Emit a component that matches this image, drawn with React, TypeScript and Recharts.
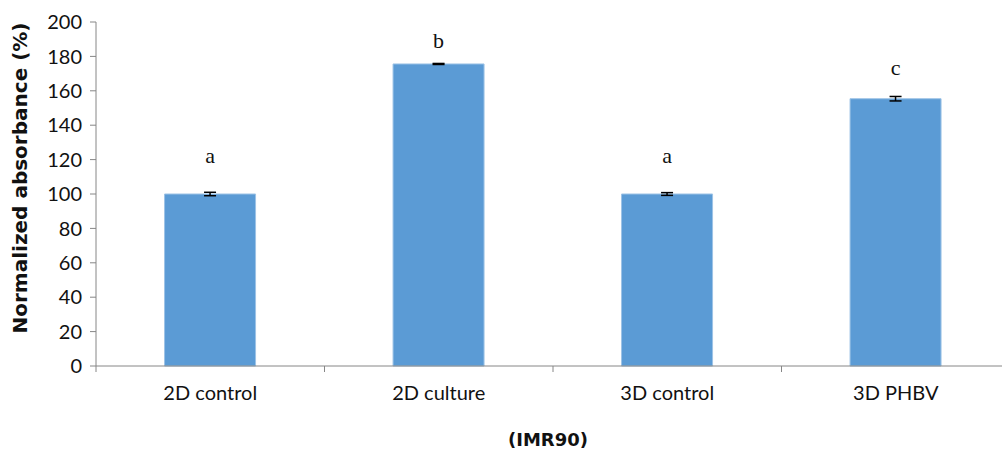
import { BarChart, Bar, XAxis, YAxis, ErrorBar, LabelList } from "recharts";

const categories: Array<string> = ["2D control", "2D culture", "3D control", "3D PHBV"];
const absorbance: Array<number> = [100, 175.6, 100, 155.4];
const errors: Array<number> = [1, 0.3, 0.8, 1.3];
const letters: Array<string> = ["a", "b", "a", "c"];
const letterLevels: Array<number> = [121, 188, 121, 172];
const yTicks: Array<number> = [0, 20, 40, 60, 80, 100, 120, 140, 160, 180, 200];

const data = categories.map((name, i) => ({
  name,
  value: absorbance[i],
  err: errors[i],
  letter: letters[i],
  level: letterLevels[i],
}));

const axisFont = "Lato, 'DejaVu Sans', sans-serif";
const boldFont = "'DejaVu Sans', sans-serif";

const CategoryTick = (props: any) => {
  const { x, y, payload, index } = props;
  const half = payload?.offset ?? 114;
  return (
    <g>
      <line x1={x - half} y1={y - 8} x2={x - half} y2={y - 2} stroke="#868686" />
      {index === categories.length - 1 && (
        <line x1={x + half} y1={y - 8} x2={x + half} y2={y - 2} stroke="#868686" />
      )}
      <text x={x} y={y + 26} textAnchor="middle" fontFamily={axisFont} fontSize={20} fill="#111">
        {payload.value}
      </text>
    </g>
  );
};

const LetterLabel = (props: any) => {
  const { x, width, index, viewBox } = props;
  const vb = viewBox || {};
  const barTop = vb.y ?? props.y;
  const barHeight = vb.height ?? props.height;
  const value = absorbance[index];
  // letter level is in data units, converted with the bar's own pixel scale
  const pxPerUnit = barHeight / value;
  const yPos = barTop + barHeight - letterLevels[index] * pxPerUnit;
  return (
    <text
      x={(vb.x ?? x) + (vb.width ?? width) / 2}
      y={yPos}
      textAnchor="middle"
      dominantBaseline="middle"
      fontFamily="'Liberation Serif', serif"
      fontSize={22}
      fill="#111"
    >
      {letters[index]}
    </text>
  );
};

const App = () => {
  return (
    <div style={{ position: "absolute", left: 0, top: 0, width: 1002, height: 452, overflow: "hidden", background: "#fff" }}>
      <BarChart
        width={1010}
        height={452}
        data={data}
        margin={{ top: 22, right: 0, left: 30, bottom: 56 }}
        barCategoryGap="30%"
      >
        <XAxis
          dataKey="name"
          height={30}
          tickLine={false}
          axisLine={{ stroke: "#868686" }}
          tick={<CategoryTick />}
          interval={0}
        />
        <YAxis
          width={66}
          domain={[0, 200]}
          ticks={yTicks}
          interval={0}
          tickSize={6}
          tickMargin={8}
          tickLine={{ stroke: "#868686" }}
          axisLine={{ stroke: "#868686" }}
          tick={{ fontFamily: axisFont, fontSize: 20, fill: "#111" }}
        />
        <Bar dataKey="value" fill="#5B9BD5" stroke="#9DC3E6" strokeWidth={1} isAnimationActive={false}>
          <ErrorBar dataKey="err" width={6} stroke="#000" strokeWidth={1.5} direction="y" />
          <LabelList dataKey="letter" content={<LetterLabel />} />
        </Bar>
      </BarChart>
      <svg style={{ position: "absolute", left: 0, top: 0 }} width={40} height={452}>
        <text
          x={0}
          y={0}
          transform="translate(27,178) rotate(-90)"
          textAnchor="middle"
          fontFamily={boldFont}
          fontWeight="bold"
          fontSize={20}
          fill="#111"
        >
          Normalized absorbance (%)
        </text>
      </svg>
      <div
        style={{
          position: "absolute",
          left: 96,
          width: 904,
          top: 429,
          textAlign: "center",
          fontFamily: boldFont,
          fontWeight: "bold",
          fontSize: 18,
          color: "#111",
        }}
      >
        (IMR90)
      </div>
    </div>
  );
};

export default App;
